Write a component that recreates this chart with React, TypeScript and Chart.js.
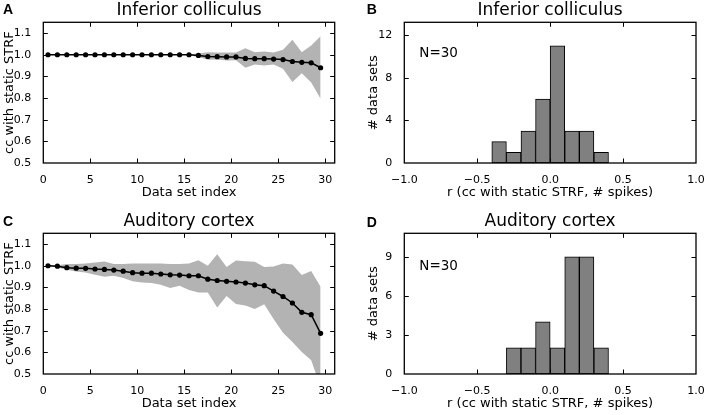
import React, { useEffect, useRef } from "react";
import { Chart, registerables } from "chart.js";

Chart.register(...registerables);

// ---------- data ----------
const dataSetIndex = [
  0.5, 1.5, 2.5, 3.5, 4.5, 5.5, 6.5, 7.5, 8.5, 9.5,
  10.5, 11.5, 12.5, 13.5, 14.5, 15.5, 16.5, 17.5, 18.5, 19.5,
  20.5, 21.5, 22.5, 23.5, 24.5, 25.5, 26.5, 27.5, 28.5, 29.5,
];

const icMean = [
  1.0, 1.0, 1.0, 1.0, 1.0, 1.0, 1.0, 1.0, 1.0, 1.0,
  1.0, 1.0, 1.0, 1.0, 1.0, 1.0, 0.997, 0.992, 0.991, 0.99,
  0.99, 0.983, 0.982, 0.982, 0.98, 0.978, 0.969, 0.965, 0.963, 0.94,
];
const icUpper = [
  1.0, 1.0, 1.0, 1.0, 1.0, 1.0, 1.0, 1.0, 1.0, 1.0,
  1.0, 1.0, 1.0, 1.0, 1.0, 1.002, 1.006, 1.012, 1.01, 1.01,
  1.01, 1.03, 1.012, 1.015, 1.01, 1.023, 1.069, 1.012, 1.043, 1.085,
];
const icLower = [
  1.0, 1.0, 1.0, 1.0, 1.0, 1.0, 1.0, 1.0, 1.0, 1.0,
  1.0, 1.0, 1.0, 1.0, 1.0, 0.998, 0.99, 0.977, 0.978, 0.974,
  0.975, 0.94, 0.955, 0.951, 0.955, 0.935, 0.874, 0.915, 0.872, 0.797,
];

const acMean = [
  1.0, 0.998, 0.991, 0.989, 0.988, 0.985, 0.983, 0.98, 0.975, 0.968,
  0.966, 0.966, 0.962, 0.958, 0.957, 0.954, 0.954, 0.938, 0.932, 0.928,
  0.925, 0.92, 0.912, 0.908, 0.883, 0.858, 0.828, 0.785, 0.774, 0.688,
];
const acUpper = [
  1.0, 1.002, 1.008, 1.008, 1.01, 1.015, 1.02, 1.008, 1.008, 1.01,
  1.011, 1.011, 1.01, 1.008, 1.008, 1.01, 1.026, 1.0, 1.053, 0.994,
  1.024, 1.021, 1.018, 0.994, 0.997, 1.01, 1.006, 0.957, 0.976, 0.903,
];
const acLower = [
  1.0, 0.992, 0.982, 0.974, 0.969, 0.958, 0.949, 0.954, 0.943, 0.928,
  0.923, 0.92, 0.912, 0.897, 0.908, 0.888, 0.877, 0.876, 0.807, 0.86,
  0.823, 0.816, 0.8, 0.822, 0.754, 0.69, 0.648, 0.602, 0.563, 0.44,
];

const icBinCenters = [-0.35, -0.25, -0.15, -0.05, 0.05, 0.15, 0.25, 0.35];
const icCounts = [2, 1, 3, 6, 11, 3, 3, 1];
const acBinCenters = [-0.25, -0.15, -0.05, 0.05, 0.15, 0.25, 0.35];
const acCounts = [2, 2, 4, 2, 9, 9, 2];

const ccTicksLabel = "cc with static STRF";
const histXLabel = "r (cc with static STRF, # spikes)";

// ---------- styling ----------
const FONT = "DejaVu Sans";
const BAND = "#b3b3b3";
const BAR = "#808080";
const W = 354;
const H = 204;

const decoPlugin = {
  id: "panelDeco",
  afterDraw(chart: any, _args: any, opts: any) {
    const { ctx, chartArea: a, scales } = chart;
    ctx.save();
    ctx.strokeStyle = "#000";
    ctx.lineWidth = 1;
    const tl = 4.5;
    scales.x.ticks.forEach((t: any) => {
      const px = Math.round(scales.x.getPixelForValue(t.value)) + 0.5;
      if (px <= a.left + 1 || px >= a.right - 1) return;
      ctx.beginPath();
      ctx.moveTo(px, a.bottom);
      ctx.lineTo(px, a.bottom - tl);
      ctx.moveTo(px, a.top);
      ctx.lineTo(px, a.top + tl);
      ctx.stroke();
    });
    scales.y.ticks.forEach((t: any) => {
      const py = Math.round(scales.y.getPixelForValue(t.value)) + 0.5;
      if (py <= a.top + 1 || py >= a.bottom - 1) return;
      ctx.beginPath();
      ctx.moveTo(a.left, py);
      ctx.lineTo(a.left + tl, py);
      ctx.moveTo(a.right, py);
      ctx.lineTo(a.right - tl, py);
      ctx.stroke();
    });
    ctx.lineWidth = 1.3;
    ctx.strokeRect(a.left, a.top, a.right - a.left, a.bottom - a.top);

    ctx.fillStyle = "#000";
    ctx.textBaseline = "middle";
    ctx.textAlign = "left";
    if (opts.letter) {
      ctx.font = 'bold 14px "Liberation Sans"';
      ctx.fillText(opts.letter, opts.letterX, opts.letterY);
    }
    if (opts.note) {
      ctx.font = `13.5px "${FONT}"`;
      ctx.fillText(opts.note, a.left + 15, a.top + opts.noteDy);
    }
    ctx.restore();
  },
};

function baseOptions(
  title: string,
  letter: string,
  letterX: number,
  letterY: number,
  leftW: number,
  padRight: number,
  yTitle: string,
  yTitlePad: number,
  xTitle: string,
  note?: string,
  noteDy?: number
): any {
  return {
    responsive: false,
    maintainAspectRatio: false,
    animation: false,
    layout: { padding: { left: 0, right: padRight, top: 0, bottom: 0 } },
    plugins: {
      legend: { display: false },
      tooltip: { enabled: false },
      title: {
        display: true,
        text: title,
        fullSize: false,
        color: "#000",
        font: { family: FONT, size: 17, weight: "normal", lineHeight: 1.2 },
        padding: { top: 0, bottom: 1.9 },
      },
      panelDeco: { letter, letterX, letterY, note, noteDy },
    },
    scales: {
      x: {
        type: "linear",
        offset: false,
        grid: { display: false },
        border: { display: false },
        ticks: {
          color: "#000",
          font: { family: FONT, size: 11 },
          padding: 3,
          maxRotation: 0,
        },
        title: {
          display: true,
          text: xTitle,
          color: "#000",
          font: { family: FONT, size: 13, lineHeight: 1.2 },
          padding: { top: 0, bottom: 3.2 },
        },
        afterFit: (s: any) => {
          s.height = H - 163;
        },
      },
      y: {
        type: "linear",
        grid: { display: false },
        border: { display: false },
        ticks: {
          color: "#000",
          font: { family: FONT, size: 11 },
          padding: 4,
          includeBounds: false,
        },
        title: {
          display: true,
          text: yTitle,
          color: "#000",
          font: { family: FONT, size: 13, lineHeight: 1.2 },
          padding: { top: yTitlePad, bottom: 0 },
        },
        afterFit: (s: any) => {
          s.width = leftW;
        },
      },
    },
  };
}

function lineConfig(
  mean: number[],
  upper: number[],
  lower: number[],
  title: string,
  letter: string,
  letterY: number
): any {
  const pts = (arr: number[]) => dataSetIndex.map((x, i) => ({ x, y: arr[i] }));
  const options = baseOptions(title, letter, 3, letterY, 43.3, W - 334.7, ccTicksLabel, 2.2, "Data set index");
  options.scales.x.min = 0;
  options.scales.x.max = 31;
  options.scales.x.ticks.stepSize = 5;
  options.scales.x.ticks.includeBounds = false;
  options.scales.y.min = 0.5;
  options.scales.y.max = 1.15;
  options.scales.y.ticks.stepSize = 0.1;
  options.scales.y.ticks.callback = (v: number) => v.toFixed(1);
  return {
    type: "line",
    data: {
      datasets: [
        {
          data: pts(mean),
          borderColor: "#000",
          borderWidth: 1.5,
          pointRadius: 2.6,
          pointBackgroundColor: "#000",
          pointBorderColor: "#000",
          pointBorderWidth: 0,
          fill: false,
          tension: 0,
        },
        {
          data: pts(upper),
          borderColor: "rgba(0,0,0,0)",
          borderWidth: 1,
          pointRadius: 0,
          backgroundColor: BAND,
          fill: "+1",
          tension: 0,
        },
        {
          data: pts(lower),
          borderColor: "rgba(0,0,0,0)",
          borderWidth: 1,
          pointRadius: 0,
          fill: false,
          tension: 0,
        },
      ],
    },
    options,
  };
}

function histConfig(
  centers: number[],
  counts: number[],
  yMax: number,
  yStep: number,
  title: string,
  letter: string,
  letterY: number,
  noteDy: number
): any {
  const options = baseOptions(title, letter, 12.7, letterY, 50.3, W - 342, "# data sets", 12.2, histXLabel, "N=30", noteDy);
  options.scales.x.min = -1;
  options.scales.x.max = 1;
  options.scales.x.ticks.stepSize = 0.5;
  options.scales.x.ticks.callback = (v: number) => (v < 0 ? "\u2212" : "") + Math.abs(v).toFixed(1);
  options.scales.y.min = 0;
  options.scales.y.max = yMax;
  options.scales.y.ticks.stepSize = yStep;
  return {
    type: "bar",
    data: {
      datasets: [
        {
          data: centers.map((x, i) => ({ x, y: counts[i] })),
          backgroundColor: BAR,
          borderColor: "#000",
          borderWidth: 1,
          borderSkipped: false,
          barPercentage: 1,
          categoryPercentage: 1,
        },
      ],
    },
    options,
  };
}

function Panel({ config, left, top }: { config: any; left: number; top: number }) {
  const ref = useRef<HTMLCanvasElement | null>(null);
  useEffect(() => {
    if (!ref.current) return;
    const chart = new Chart(ref.current, { ...config, plugins: [decoPlugin] });
    return () => chart.destroy();
  }, []);
  return (
    <canvas
      ref={ref}
      width={W}
      height={H}
      style={{ position: "absolute", left, top, width: W, height: H }}
    />
  );
}

export default function App() {
  return (
    <div style={{ position: "absolute", left: 0, top: 0, width: 708, height: 415, background: "#fff" }}>
      <Panel config={lineConfig(icMean, icUpper, icLower, "Inferior colliculus", "A", 10)} left={0} top={0} />
      <Panel config={histConfig(icBinCenters, icCounts, 13.2, 4, "Inferior colliculus", "B", 10, 31)} left={354} top={0} />
      <Panel config={lineConfig(acMean, acUpper, acLower, "Auditory cortex", "C", 11.5)} left={0} top={211} />
      <Panel config={histConfig(acBinCenters, acCounts, 10.8, 3, "Auditory cortex", "D", 12, 33)} left={354} top={211} />
    </div>
  );
}
